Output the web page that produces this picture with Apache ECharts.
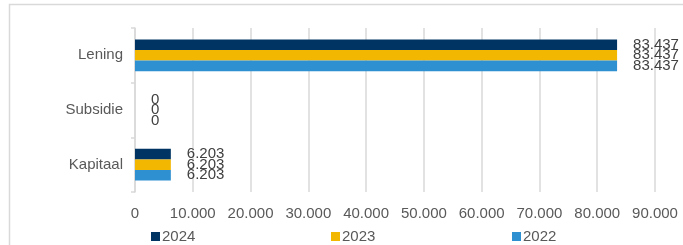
<!DOCTYPE html>
<html>
<head>
    <meta charset="utf-8">
    <title>Financiering</title>
    <script src="https://cdn.jsdelivr.net/npm/echarts@6/dist/echarts.min.js"></script>
    <style>
        body { margin: 0; background: #fff; }
    </style>
</head>
<body>
    <div id="main" style="width: 683px;height:245px;"></div>
    <script type="text/javascript">
        // data
        var categories = ['Kapitaal', 'Subsidie', 'Lening'];
        var years = ['2024', '2023', '2022'];
        var values2024 = [6203, 0, 83437];
        var values2023 = [6203, 0, 83437];
        var values2022 = [6203, 0, 83437];
        var xTicks = { min: 0, max: 90000, interval: 10000 };

        var colors = { '2024': '#003462', '2023': '#f2b700', '2022': '#2e8fd1' };
        var font = 'Liberation Sans, Arial, sans-serif';

        // dutch thousands separator
        function nl(v) {
            return String(v).replace(/\B(?=(\d{3})+(?!\d))/g, '.');
        }

        function makeSeries(name, data) {
            return {
                name: name,
                type: 'bar',
                data: data,
                barGap: '0%',
                barCategoryGap: '42%',
                itemStyle: { color: colors[name] },
                label: {
                    show: true,
                    position: 'right',
                    distance: 16,
                    color: '#404040',
                    fontFamily: font,
                    fontSize: 15,
                    formatter: function (p) { return nl(p.value); }
                }
            };
        }

        function makeLegend(name, left) {
            return {
                data: [name],
                left: left,
                top: 229,
                itemWidth: 9,
                itemHeight: 9,
                itemGap: 0,
                icon: 'rect',
                padding: 0,
                textStyle: { color: '#595959', fontFamily: font, fontSize: 15, padding: [0, 0, 0, -3] }
            };
        }

        var myChart = echarts.init(document.getElementById('main'));

        var option = {
            animation: false,
            graphic: [{
                type: 'rect',
                shape: { x: 9.5, y: 4.5, width: 700, height: 260 },
                style: { fill: 'none', stroke: '#d9d9d9', lineWidth: 1.5 },
                silent: true
            }],
            legend: [makeLegend('2024', 151), makeLegend('2023', 331), makeLegend('2022', 512)],
            grid: { left: 135, right: 28, top: 28, bottom: 53 },
            xAxis: {
                type: 'value',
                min: xTicks.min,
                max: xTicks.max,
                interval: xTicks.interval,
                axisLine: { show: false },
                axisTick: { show: false },
                splitLine: { lineStyle: { color: '#d9d9d9', width: 1.5 } },
                axisLabel: {
                    color: '#595959',
                    fontFamily: font,
                    fontSize: 15,
                    margin: 14,
                    formatter: function (v) { return nl(v); }
                }
            },
            yAxis: {
                type: 'category',
                data: categories,
                axisLine: { lineStyle: { color: '#d9d9d9', width: 1.5 } },
                axisTick: { show: true, length: 4, lineStyle: { color: '#d9d9d9', width: 1.5 } },
                axisLabel: { color: '#595959', fontFamily: font, fontSize: 15, margin: 12 }
            },
            series: [
                makeSeries(years[0], values2024),
                makeSeries(years[1], values2023),
                makeSeries(years[2], values2022)
            ]
        };
        myChart.setOption(option);
    </script>
</body>
</html>
